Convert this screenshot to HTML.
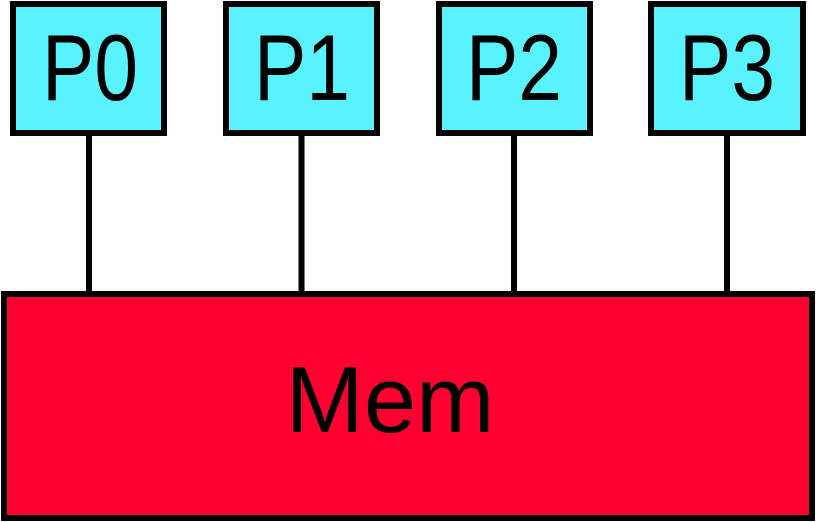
<!DOCTYPE html>
<html><head><style>html,body{margin:0;padding:0;background:#fff;width:816px;height:522px;overflow:hidden}</style></head>
<body>
<svg width="816" height="522" viewBox="0 0 816 522" xmlns="http://www.w3.org/2000/svg" font-family="Liberation Sans, sans-serif">
<g stroke="#000" stroke-width="6">
<line x1="89" y1="133" x2="89" y2="294"/>
<line x1="301.5" y1="133" x2="301.5" y2="294"/>
<line x1="514" y1="133" x2="514" y2="294"/>
<line x1="727" y1="133" x2="727" y2="294"/>
<rect x="13" y="4" width="151" height="129" fill="#59f3ff"/>
<rect x="226" y="4" width="151" height="129" fill="#59f3ff"/>
<rect x="439" y="4" width="151" height="129" fill="#59f3ff"/>
<rect x="651" y="4" width="152" height="129" fill="#59f3ff"/>
<rect x="4" y="294" width="808" height="224" fill="#ff0030"/>
</g>
<g font-size="94" fill="#000">
<text x="42" y="100" textLength="96" lengthAdjust="spacingAndGlyphs">P0</text>
<text x="254" y="100" textLength="96" lengthAdjust="spacingAndGlyphs">P1</text>
<text x="466" y="100" textLength="96" lengthAdjust="spacingAndGlyphs">P2</text>
<text x="679" y="100" textLength="96" lengthAdjust="spacingAndGlyphs">P3</text>
<text x="390" y="432" text-anchor="middle">Mem</text>
</g>
</svg>
</body></html>
